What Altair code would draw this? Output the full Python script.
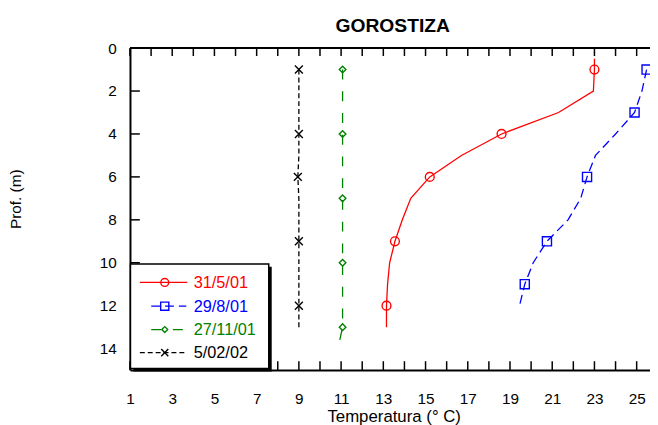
import altair as alt
import pandas as pd

# ---------------- data ----------------
chart_title = "GOROSTIZA"
x_title = "Temperatura (° C)"
y_title = "Prof. (m)"

series_names = ["31/5/01", "29/8/01", "27/11/01", "5/02/02"]
series_colors = ["#ff0000", "#0000ff", "#008000", "#000000"]

red_depth = [0.5, 1, 2, 3, 4, 5, 6, 7, 8, 9, 10, 11, 12, 13]
red_temp = [23.0, 23.0, 22.95, 21.3, 18.6, 16.7, 15.2, 14.3, 13.9, 13.55, 13.3, 13.2, 13.15, 13.15]
red_marks = [1, 4, 6, 9, 12]

blue_depth = [1, 2, 3, 4, 5, 6, 7, 8, 9, 10, 11, 12]
blue_temp = [25.47, 25.25, 24.9, 24.0, 23.05, 22.65, 22.35, 21.75, 20.75, 20.1, 19.7, 19.45]
blue_marks = [1, 3, 6, 9, 11]

green_depth = [1, 2, 3, 4, 5, 6, 7, 8, 9, 10, 11, 12, 13, 14]
green_temp = [11.07, 11.07, 11.07, 11.07, 11.07, 11.07, 11.07, 11.07, 11.07, 11.07, 11.07, 11.07, 11.07, 10.85]
green_marks = [1, 4, 7, 10, 13]

black_depth = [1, 2, 3, 4, 5, 6, 7, 8, 9, 10, 11, 12, 13]
black_temp = [9.0, 9.0, 9.0, 9.0, 9.0, 8.95, 9.0, 9.0, 9.0, 9.0, 9.0, 9.0, 9.0]
black_marks = [1, 4, 6, 9, 12]

x_label_values = [1, 3, 5, 7, 9, 11, 13, 15, 17, 19, 21, 23, 25]
x_tick_values = list(range(1, 26))
y_label_values = [0, 2, 4, 6, 8, 10, 12, 14]
y_tick_values = [2, 4, 6, 8, 10, 12, 14]

# ---------------- style ----------------
FONT = "Liberation Sans"
W = 526.5
H = 326
x_domain = [1, 1 + W / 21.375]
y_domain = [0, 15]

dashes = [None, [9, 5], [10, 12], [5, 3]]
shapes = ["circle", "square", "diamond", "M-1,-1L1,1M-1,1L1,-1"]
sizes = [80, 85, 45, 64]

xs = alt.Scale(domain=x_domain, nice=False, zero=False)
ys = alt.Scale(domain=y_domain, reverse=True, nice=False, zero=False)

x_axis = alt.Axis(
    values=x_label_values, title=x_title, ticks=False, tickSize=0, grid=False,
    domainColor="black", domainWidth=2, labelFont=FONT, labelFontSize=15.5,
    labelColor="black", labelPadding=22, labelFlush=False, labelOverlap=False,
    titleFont=FONT, titleFontSize=17, titleFontWeight="normal", titleColor="black",
    titleX=267, titleY=52, titleBaseline="alphabetic", titleAlign="center",
)
y_axis = alt.Axis(
    values=y_label_values, title=y_title, ticks=False, tickSize=0, grid=False,
    domainColor="black", domainWidth=2, labelFont=FONT, labelFontSize=15.5,
    labelColor="black", labelPadding=14, labelFlush=False, labelOverlap=False,
    titleFont=FONT, titleFontSize=15.5, titleFontWeight="normal", titleColor="black",
    titleAngle=270, titleX=-110.5, titleY=152.5, titleBaseline="alphabetic",
    titleAlign="center",
)

xenc = alt.X("temp:Q", scale=xs, axis=x_axis)
yenc = alt.Y("depth:Q", scale=ys, axis=y_axis)

all_series = [
    (red_depth, red_temp, red_marks),
    (blue_depth, blue_temp, blue_marks),
    (green_depth, green_temp, green_marks),
    (black_depth, black_temp, black_marks),
]

layers = []
one = pd.DataFrame({"k": [0]})

# frame: top line and inward ticks
layers.append(alt.Chart(one).mark_rule(color="black", strokeWidth=2).encode(
    x=alt.value(0), x2=alt.value(W), y=alt.value(0)))
xt = pd.DataFrame({"temp": x_tick_values})
layers.append(alt.Chart(xt).mark_rule(color="black", strokeWidth=1.5).encode(
    x=xenc, y=alt.value(0), y2=alt.value(8)))
layers.append(alt.Chart(xt).mark_rule(color="black", strokeWidth=1.5).encode(
    x=xenc, y=alt.value(H - 9), y2=alt.value(H)))
yt = pd.DataFrame({"depth": y_tick_values})
layers.append(alt.Chart(yt).mark_rule(color="black", strokeWidth=1.5).encode(
    y=yenc, x=alt.value(0), x2=alt.value(10)))

# data series
for i, (dep, tmp, mk) in enumerate(all_series):
    df = pd.DataFrame({"depth": dep, "temp": tmp})
    df["marker"] = df["depth"].isin(mk)
    line_kw = dict(color=series_colors[i], strokeWidth=1.3, clip=True)
    if dashes[i] is not None:
        line_kw["strokeDash"] = dashes[i]
    layers.append(alt.Chart(df).mark_line(**line_kw).encode(
        x=xenc, y=yenc, order=alt.Order("depth:Q")))
    layers.append(alt.Chart(df[df["marker"]]).mark_point(
        shape=shapes[i], color=series_colors[i], filled=False, size=sizes[i],
        strokeWidth=1.4, opacity=1, clip=True).encode(x=xenc, y=yenc))

# legend box with shadow
layers.append(alt.Chart(one).mark_rect(color="black").encode(
    x=alt.value(3.5), x2=alt.value(143.5), y=alt.value(221.5), y2=alt.value(327.5)))
layers.append(alt.Chart(one).mark_rect(fill="white", stroke="black", strokeWidth=1.5).encode(
    x=alt.value(0.5), x2=alt.value(140.5), y=alt.value(218.5), y2=alt.value(324.5)))

row_y = [237.3, 261.3, 285.0, 308.3]
leg_line = [(10, 58), (21.5, 57), (21.5, 57), (10, 58)]
for i, name in enumerate(series_names):
    rk = dict(color=series_colors[i], strokeWidth=1.3)
    if dashes[i] is not None:
        rk["strokeDash"] = dashes[i]
    layers.append(alt.Chart(one).mark_rule(**rk).encode(
        x=alt.value(leg_line[i][0]), x2=alt.value(leg_line[i][1]), y=alt.value(row_y[i])))
    layers.append(alt.Chart(one).mark_point(
        shape=shapes[i], color=series_colors[i], filled=False, size=sizes[i] * 0.8,
        strokeWidth=1.4, opacity=1).encode(x=alt.value(35.2), y=alt.value(row_y[i])))
    layers.append(alt.Chart(one).mark_text(
        text=name, color=series_colors[i], font=FONT, fontSize=16.5, align="left",
        baseline="middle").encode(x=alt.value(64.5), y=alt.value(row_y[i] + 0.5)))

# title
layers.append(alt.Chart(one).mark_text(
    text=chart_title, font=FONT, fontSize=19.5, fontWeight="bold", color="black",
    align="center", baseline="alphabetic").encode(x=alt.value(266), y=alt.value(-16)))

chart = alt.layer(*layers).properties(
    width=W, height=H,
    padding={"left": 123.5, "top": 38, "right": 0, "bottom": 53},
    autosize=alt.AutoSizeParams(type="none"),
    background="white",
).configure_view(stroke=None)

chart.save("out.html", embed_options={"renderer": "svg", "actions": False})
